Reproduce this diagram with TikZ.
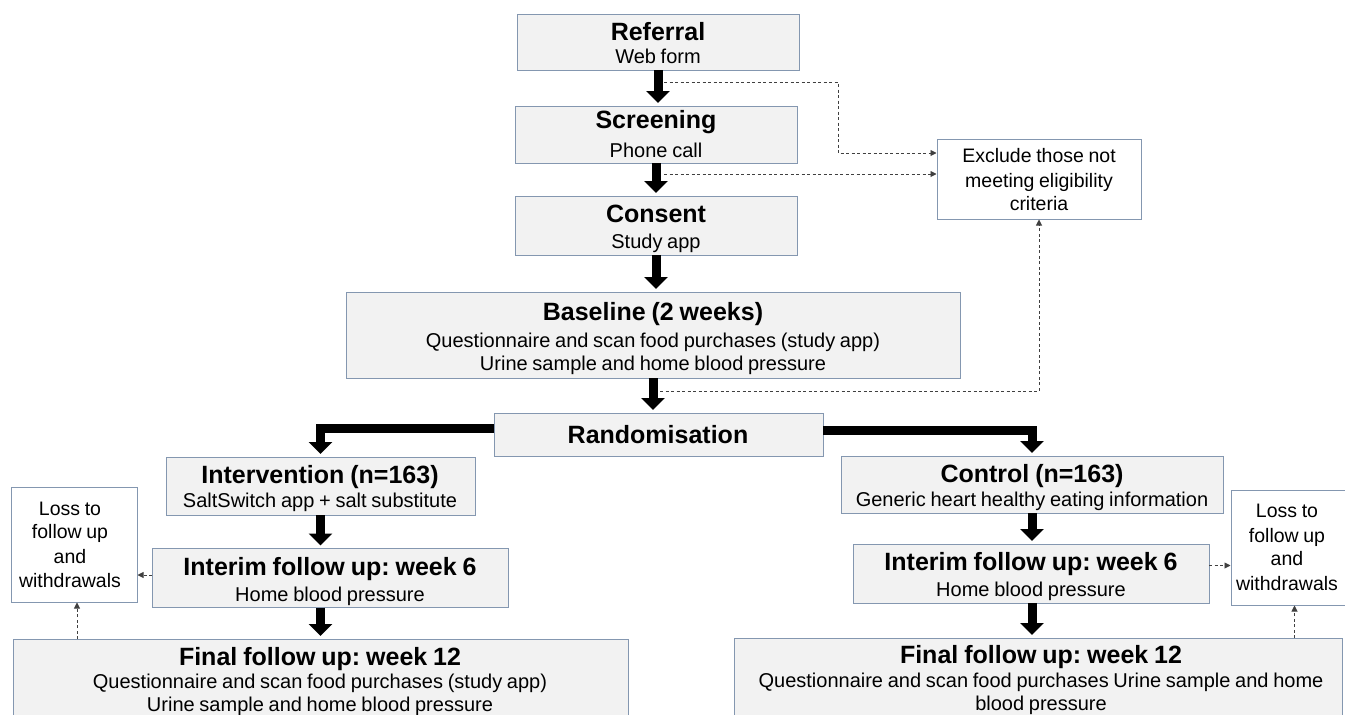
\documentclass[tikz,border=0pt]{standalone}
\usepackage{fontspec}
\setmainfont[WordSpace=0.85]{Liberation Sans}
\usetikzlibrary{arrows.meta}
\definecolor{boxline}{RGB}{132,151,176}
\definecolor{boxfill}{RGB}{242,242,242}
\definecolor{dashcol}{RGB}{64,64,64}
\frenchspacing
\begin{document}
\begin{tikzpicture}[x=1pt,y=-1pt,
 graybox/.style={draw=boxline, fill=boxfill, line width=1pt, inner sep=0pt, outer sep=0pt},
 whitebox/.style={draw=boxline, fill=white, line width=1pt, inner sep=0pt, outer sep=0pt},
 ttl/.style={anchor=base, inner sep=0pt, font=\fontsize{25}{28}\selectfont\bfseries},
 sub/.style={anchor=base, inner sep=0pt, font=\fontsize{20}{24}\selectfont},
 note/.style={anchor=base, inner sep=0pt, font=\fontsize{19.5}{24}\selectfont},
 fat/.style={line width=9pt, shorten >=3pt, -{Triangle[width=23pt,length=12pt]}},
 dotarrow/.style={draw=dashcol, line width=0.9pt, dash pattern=on 3pt off 2.5pt, -{Triangle[width=6pt,length=6pt]}, shorten >=0.5pt}
]
\path[use as bounding box] (0,0) rectangle (1345,715);
\clip (0,0) rectangle (1345,715);

% boxes
\node[graybox, minimum width=282pt, minimum height=56pt] (ref) at (658,42) {};
\node[graybox, minimum width=282pt, minimum height=57pt] (scr) at (656,134.5) {};
\node[graybox, minimum width=282pt, minimum height=59pt] (con) at (656,225.5) {};
\node[graybox, minimum width=614pt, minimum height=86pt] (base) at (653,335) {};
\node[graybox, minimum width=329pt, minimum height=43pt] (rand) at (658.5,434.5) {};
\node[whitebox, minimum width=204pt, minimum height=80pt] (exc) at (1039,179) {};
\node[graybox, minimum width=309pt, minimum height=58pt] (intv) at (320.5,486) {};
\node[graybox, minimum width=356pt, minimum height=59pt] (intl) at (330,578) {};
\node[graybox, minimum width=615pt, minimum height=118pt] (finl) at (320.5,698) {};
\node[whitebox, minimum width=126pt, minimum height=115pt] (lossl) at (74,544.5) {};
\node[graybox, minimum width=382pt, minimum height=57pt] (ctrl) at (1032,484.5) {};
\node[graybox, minimum width=356pt, minimum height=59pt] (intr) at (1031,573.5) {};
\node[graybox, minimum width=608pt, minimum height=121pt] (finr) at (1038,698.5) {};
\node[whitebox, minimum width=131pt, minimum height=115pt] (lossr) at (1296.5,547.5) {};

% texts
\node[ttl] (refT) at (658,40) {Referral};
\node[sub] (refS) at (658,63) {Web form};
\node[ttl] (scrT) at (656,128) {Screening};
\node[sub] (scrS) at (656,157) {Phone call};
\node[ttl] (conT) at (656,222) {Consent};
\node[sub] (conS) at (656,248) {Study app};
\node[ttl] (baseT) at (653,320) {Baseline (2 weeks)};
\node[sub] (baseS1) at (653,347) {Questionnaire and scan food purchases (study app)};
\node[sub] (baseS2) at (653,370) {Urine sample and home blood pressure};
\node[ttl] (randT) at (658,443) {Randomisation};
\node[note] (excA) at (1039,162) {Exclude those not};
\node[note] (excB) at (1039,187) {meeting eligibility};
\node[note] (excC) at (1039,210) {criteria};
\node[ttl] (intvT) at (320,483) {Intervention (n=163)};
\node[sub] (intvS) at (320,507) {SaltSwitch app + salt substitute};
\node[ttl] (intlT) at (330,575) {Interim follow up: week 6};
\node[sub] (intlS) at (330,601) {Home blood pressure};
\node[ttl] (finlT) at (320,665) {Final follow up: week 12};
\node[sub] (finlS1) at (320,688) {Questionnaire and scan food purchases (study app)};
\node[sub] (finlS2) at (320,711) {Urine sample and home blood pressure};
\node[note] (lossLA) at (70,515) {Loss to};
\node[note] (lossLB) at (70,538) {follow up};
\node[note] (lossLC) at (70,563) {and};
\node[note] (lossLD) at (70,587) {withdrawals};
\node[ttl] (ctrlT) at (1032,482) {Control (n=163)};
\node[sub] (ctrlS) at (1032,506) {Generic heart healthy eating information};
\node[ttl] (intrT) at (1031,570) {Interim follow up: week 6};
\node[sub] (intrS) at (1031,596) {Home blood pressure};
\node[ttl] (finrT) at (1041,663) {Final follow up: week 12};
\node[sub] (finrS1) at (1041,687) {Questionnaire and scan food purchases Urine sample and home};
\node[sub] (finrS2) at (1041,710) {blood pressure};
\node[note] (lossRA) at (1287,517) {Loss to};
\node[note] (lossRB) at (1287,542) {follow up};
\node[note] (lossRC) at (1287,565) {and};
\node[note] (lossRD) at (1287,590) {withdrawals};

% thick arrows
\draw[fat] (ref.south) -- (ref.south |- scr.north);
\draw[fat] (scr.south) -- (scr.south |- con.north);
\draw[fat] (con.south) -- (con.south |- base.north);
\draw[fat] (base.south) -- (base.south |- rand.north);
\draw[fat] ([yshift=6pt]rand.west) -| (intv.north);
\draw[fat] ([yshift=4pt]rand.east) -| (ctrl.north);
\draw[fat] (intv.south) -- (intv.south |- intl.north);
\draw[fat] (intv.south |- intl.south) -- (intv.south |- finl.north);
\draw[fat] (ctrl.south) -- (ctrl.south |- intr.north);
\draw[fat] (ctrl.south |- intr.south) -- (ctrl.south |- finr.north);

% dashed arrows
\coordinate (d1) at (664,82);
\coordinate (k1) at (838,153);
\draw[dotarrow] (d1) -| (k1) -- (exc.west |- k1);
\coordinate (d2) at (664,174);
\draw[dotarrow] (d2) -- (exc.west |- d2);
\coordinate (d3) at (660,391);
\draw[dotarrow] (d3) -| (exc.south);
\draw[dotarrow] ([yshift=3pt]intl.west) -- ([yshift=3pt]intl.west -| lossl.east);
\draw[dotarrow] ([xshift=3pt]lossl.south |- finl.north) -- ([xshift=3pt]lossl.south);
\draw[dotarrow] ([yshift=8pt]intr.east) -- ([yshift=8pt]intr.east -| lossr.west);
\draw[dotarrow] ([xshift=-2pt]lossr.south |- finr.north) -- ([xshift=-2pt]lossr.south);
\end{tikzpicture}
\end{document}
